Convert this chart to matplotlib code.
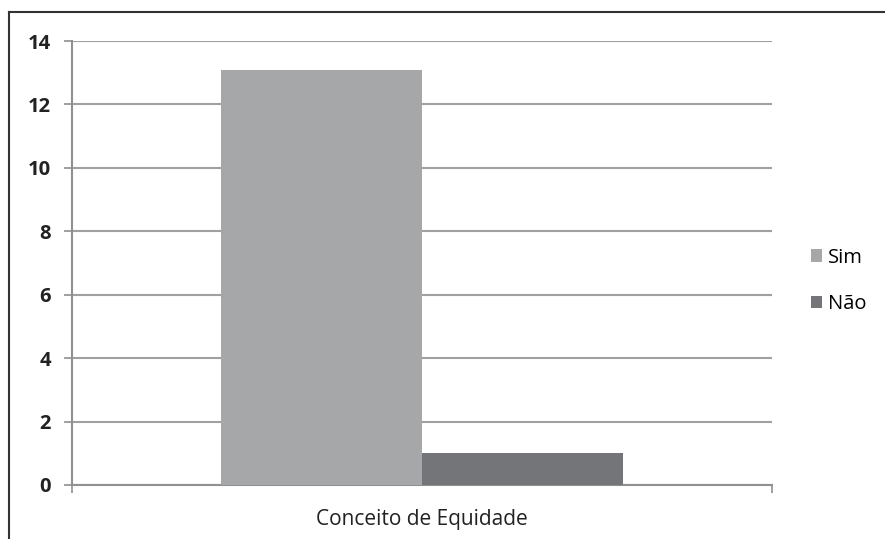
import matplotlib
matplotlib.use("Agg")
import matplotlib.pyplot as plt
from matplotlib.lines import Line2D

categories = ["Conceito de Equidade"]
series_names = ["Sim", "Não"]
series_values = [[13.1], [1.0]]
colors = ["#a6a7a9", "#737578"]
yticks = [0, 2, 4, 6, 8, 10, 12, 14]

plt.rcParams['font.family'] = ['Open Sans', 'DejaVu Sans']

fig = plt.figure(figsize=(8.85, 5.39), dpi=100)
ax = fig.add_axes([72/885, 1-485/539, 700/885, 444/539])

width = 0.287
offsets = [-width/2, width/2]
for i, (name, vals) in enumerate(zip(series_names, series_values)):
    ax.bar([offsets[i]], vals, width=width, color=colors[i], label=name, zorder=3)

ax.set_xlim(-0.5, 0.5)
ax.set_ylim(0, 14)
ax.set_yticks(yticks)
ax.set_yticklabels([str(t) for t in yticks], fontsize=14.5, fontweight='bold', color='#222222')
ax.yaxis.grid(True, color='#a0a0a0', linewidth=1.5, zorder=0)
ax.set_xticks([-0.5, 0.5])
ax.set_xticklabels(["", ""])
ax.tick_params(axis='y', length=6, width=1.2, color='#909090', pad=9)
ax.tick_params(axis='x', length=6, width=1.2, color='#909090')
ax.text(0.5, -0.078, categories[0], transform=ax.transAxes, ha='center', va='center', fontsize=15, color='#222222')

for s in ['top', 'right']:
    ax.spines[s].set_visible(False)
for s in ['left', 'bottom']:
    ax.spines[s].set_color('#909090')
    ax.spines[s].set_linewidth(1.5)

leg = ax.legend(loc='center left', bbox_to_anchor=(1.03, 0.46), frameon=False, fontsize=14.5,
                handlelength=0.55, handleheight=0.55, handletextpad=0.3, labelspacing=1.3)

# outer chart border (left and top visible)
fig.add_artist(Line2D([9/885, 9/885], [0, 1-12/539], color='#333333', linewidth=1.5, transform=fig.transFigure))
fig.add_artist(Line2D([9/885, 1], [1-12/539, 1-12/539], color='#333333', linewidth=1.5, transform=fig.transFigure))

fig.savefig("out.png", dpi=100)
